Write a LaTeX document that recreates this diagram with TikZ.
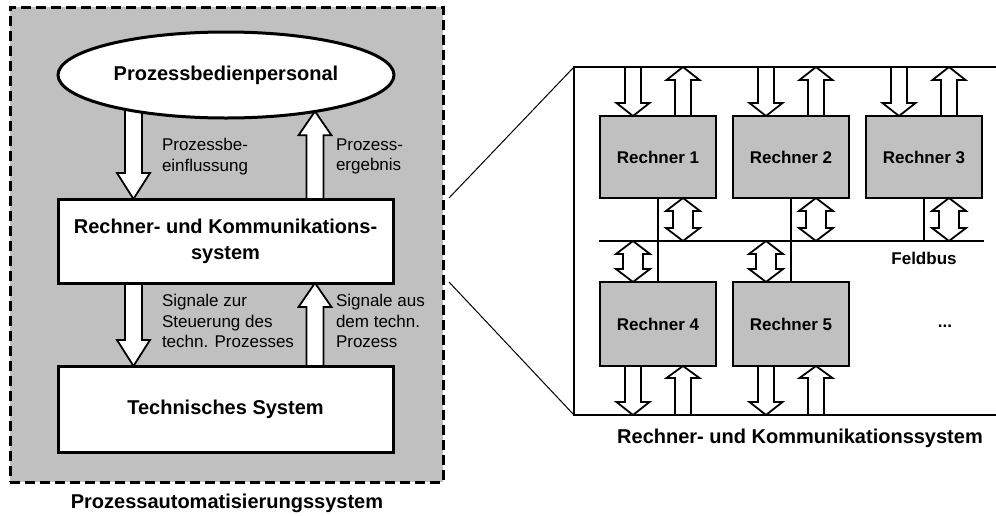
\documentclass[tikz,border=0pt]{standalone}
\usepackage{fontspec}
\setmainfont{Liberation Sans}
\usetikzlibrary{shapes.geometric,calc}
\definecolor{panelgray}{RGB}{192,192,192}
\pgfdeclarelayer{panel}
\pgfdeclarelayer{arrows}
\pgfsetlayers{panel,arrows,main}

\newcommand\lblfont{\fontsize{17}{20.5}\selectfont}
\newcommand\bigfont{\fontsize{20}{26}\selectfont\bfseries}
\newcommand\pcfont{\fontsize{17}{20}\selectfont\bfseries}

% vertical block arrow: from, to, shaft half width, head half width, head length
\newcommand\blockarrow[6][]{%
  \draw[blockarr,#1] let \p1=#2, \p2=#3, \n1={sign(\y2-\y1)} in
    ({\x1-#4},\y1) -- ({\x1-#4},{\y2-\n1*#6}) -- ({\x1-#5},{\y2-\n1*#6}) -- (\x1,\y2)
    -- ({\x1+#5},{\y2-\n1*#6}) -- ({\x1+#4},{\y2-\n1*#6}) -- ({\x1+#4},\y1) -- cycle;}
% vertical double-headed block arrow
\newcommand\dblarrow[6][]{%
  \draw[blockarr,#1] let \p1=#2, \p2=#3, \n1={sign(\y2-\y1)} in
    (\x1,\y1) -- ({\x1+#5},{\y1+\n1*#6}) -- ({\x1+#4},{\y1+\n1*#6})
    -- ({\x1+#4},{\y2-\n1*#6}) -- ({\x1+#5},{\y2-\n1*#6}) -- (\x1,\y2)
    -- ({\x1-#5},{\y2-\n1*#6}) -- ({\x1-#4},{\y2-\n1*#6})
    -- ({\x1-#4},{\y1+\n1*#6}) -- ({\x1-#5},{\y1+\n1*#6}) -- cycle;}

\tikzset{
  every node/.style={inner sep=0pt, outer sep=0pt},
  panelbox/.style={draw, fill=panelgray, line width=3pt, dash pattern=on 10pt off 5pt},
  ovalnode/.style={ellipse, draw, fill=white, line width=3pt, font=\bigfont},
  whitebox/.style={rectangle, draw, fill=white, line width=3pt, align=center, font=\bigfont},
  pcbox/.style={rectangle, draw, fill=panelgray, line width=1.8pt, minimum width=116pt, font=\pcfont},
  blockarr/.style={draw, fill=white, line width=1.8pt, line join=miter},
  lbl/.style={anchor=north west, align=left, font=\lblfont},
  caption/.style={font=\bigfont},
  frameline/.style={line width=2pt},
  zoomline/.style={line width=1pt},
  busline/.style={line width=2.6pt},
  tapline/.style={line width=2.2pt},
}

\begin{document}
\begin{tikzpicture}[x=1pt,y=-1pt]
\useasboundingbox (0,0) rectangle (996,515);

% ---------- left: process automation system ----------
\begin{pgfonlayer}{panel}
  \node[panelbox, minimum width=433pt, minimum height=475pt] (P) at (226.5,244.5) {};
\end{pgfonlayer}

\node[ovalnode, minimum width=336pt, minimum height=86pt] (E) at (226,75) {Prozessbedienpersonal};
\node[whitebox, minimum width=335pt, minimum height=84pt] (RK) at (225.5,241) {Rechner- und Kommunikations-\\system};
\node[whitebox, minimum width=335pt, minimum height=86pt] (TS) at (225.5,409) {Technisches System};

\coordinate (ax1) at (133.5,0);
\coordinate (ax2) at (315,0);

\begin{pgfonlayer}{arrows}
  \blockarrow{(ax1 |- E.center)}{(ax1 |- RK.north)}{8.5pt}{16.5pt}{26pt}
  \blockarrow{(ax2 |- RK.north)}{(ax2 |- E.-22)}{8.5pt}{16.5pt}{24pt}
  \blockarrow{(ax1 |- RK.south)}{(ax1 |- TS.north)}{8.5pt}{16.5pt}{26pt}
  \blockarrow{(ax2 |- TS.north)}{(ax2 |- RK.south)}{8.5pt}{16.5pt}{24pt}
\end{pgfonlayer}

\node[lbl] (l1) at (162,138.5) {Prozessbe-\\einflussung};
\node[lbl] (l2) at (336,138.5) {Prozess-\\ergebnis};
\node[lbl] (l3) at (162,294.5) {Signale zur\\Steuerung des\\techn. Prozesses};
\node[lbl] (l4) at (336,294.5) {Signale aus\\dem techn.\\Prozess};

\node[caption] (cap1) at (227,503) {Prozessautomatisierungssystem};

% ---------- right: computer and communication system ----------
\coordinate (ftop) at (574,67);
\coordinate (fbot) at (574,415);
\coordinate (ftopR) at (996,67);
\coordinate (fbotR) at (996,415);
\coordinate (z1) at (449,198);
\coordinate (z2) at (449,282);
\coordinate (busL) at (599,241);
\coordinate (busR) at (984,241);

\node[pcbox, minimum height=82pt] (R1) at (658,157) {Rechner 1};
\node[pcbox, minimum height=82pt] (R2) at (791,157) {Rechner 2};
\node[pcbox, minimum height=82pt] (R3) at (924,157) {Rechner 3};
\node[pcbox, minimum height=84pt] (R4) at (658,324) {Rechner 4};
\node[pcbox, minimum height=84pt] (R5) at (791,324) {Rechner 5};

\foreach \r in {R1,R2,R3,R4,R5}{
  \coordinate (\r i) at ($(\r.north west)+(33,0)$);
  \coordinate (\r o) at ($(\r.north west)+(83,0)$);
}

\begin{pgfonlayer}{arrows}
  % inputs and outputs of the upper computers
  \foreach \r in {R1,R2,R3}{
    \blockarrow{(\r i |- ftop)}{(\r i |- \r.north)}{8pt}{16.5pt}{13pt}
    \blockarrow{(\r o |- \r.north)}{(\r o |- ftop)}{8pt}{16.5pt}{13pt}
    \dblarrow{(\r o |- \r.south)}{(\r o |- busL)}{10pt}{17pt}{13pt}
  }
  % inputs and outputs of the lower computers
  \foreach \r in {R4,R5}{
    \blockarrow{(\r i |- \r.south)}{(\r i |- fbot)}{8pt}{16.5pt}{13pt}
    \blockarrow{(\r o |- fbot)}{(\r o |- \r.south)}{8pt}{16.5pt}{12pt}
    \dblarrow{(\r i |- busL)}{(\r i |- \r.north)}{10pt}{17pt}{13pt}
  }
\end{pgfonlayer}

% field bus and bus taps
\draw[busline] (busL) -- (busR);
\draw[tapline] (R1.south) -- (R4.north);
\draw[tapline] (R2.south) -- (R5.north);
\draw[tapline] (R3.south) -- (R3.south |- busL);

\node[font=\pcfont] (fb) at (924,258) {Feldbus};
\node[font=\pcfont] (dots) at (945,326) {...};

% frame and magnification lines
\draw[frameline] (ftopR) -- (ftop) -- (fbot) -- (fbotR);
\draw[zoomline] (z1) -- (ftop);
\draw[zoomline] (z2) -- (fbot);

\node[caption] (cap2) at (800,438) {Rechner- und Kommunikationssystem};
\end{tikzpicture}
\end{document}
